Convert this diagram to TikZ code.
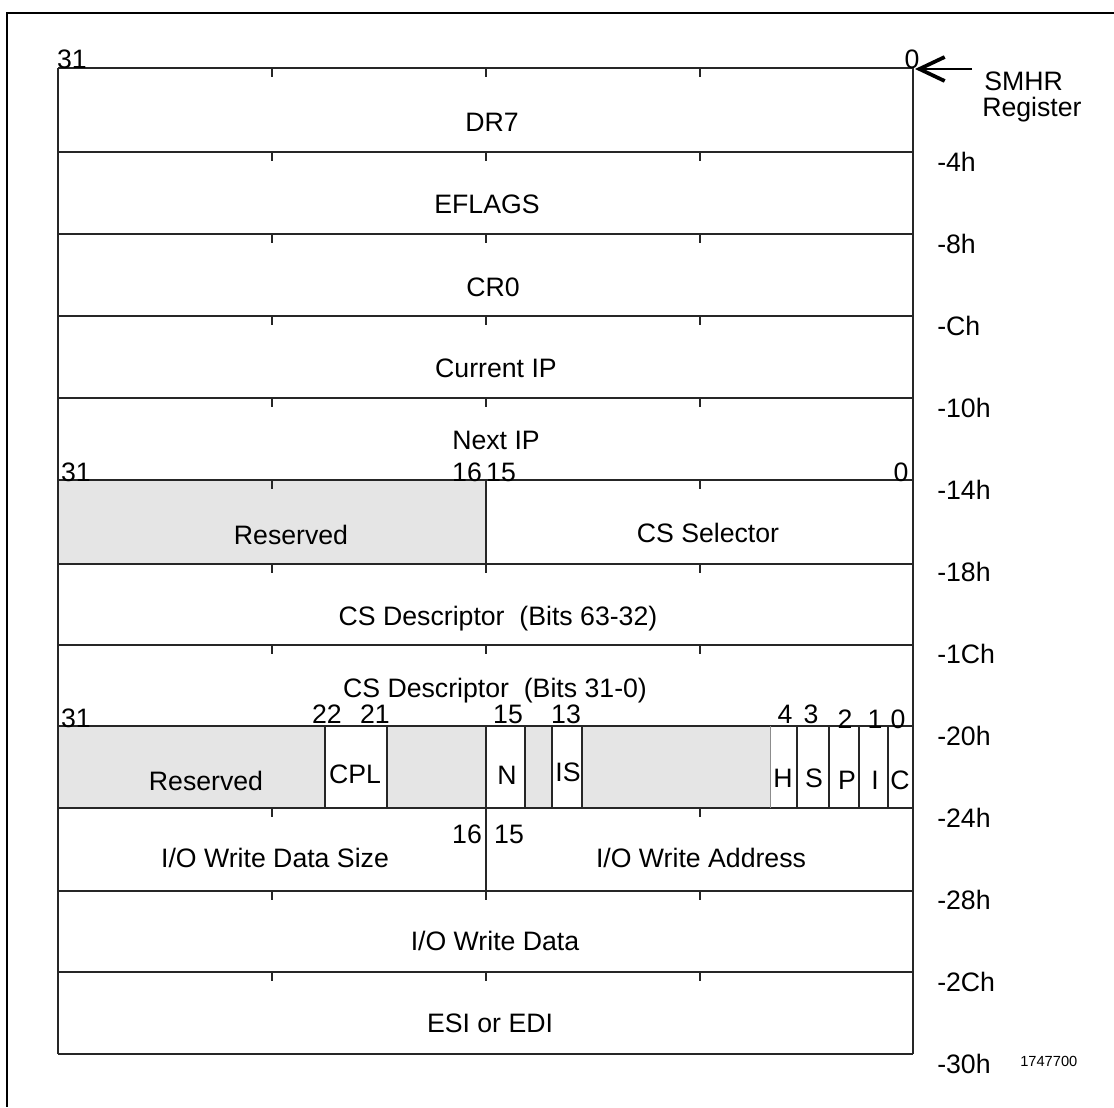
\documentclass[tikz,border=0pt]{standalone}
\usepackage{fontspec}
\setmainfont{Liberation Sans}
\usetikzlibrary{arrows.meta}
\begin{document}
\begin{tikzpicture}[x=0.75pt,y=-0.75pt,
  grid/.style={line width=1.1pt, draw=black!85},
  thinline/.style={line width=0.6pt, draw=black!45},
  frame/.style={line width=1.3pt, draw=black},
  txt/.style={inner sep=0pt, anchor=base, font=\fontsize{20}{24}\selectfont},
  txtl/.style={txt, anchor=base west},
  small/.style={inner sep=0pt, anchor=base west, font=\fontsize{11}{13}\selectfont},
  resv/.style={fill=black!10},
]
\useasboundingbox (0,0) rectangle (1114,1107);
% outer frame (cut by page edges)
\draw[frame] (1114,13) -- (7,13) -- (7,1107);

% reserved fills
\fill[resv] (58,480) rectangle (486,564);
\fill[resv] (58,726) rectangle (913,808);
\fill[white] (325,726) rectangle (387,808);
\fill[white] (486,726) rectangle (525,808);
\fill[white] (552,726) rectangle (582,808);
\fill[white] (770,726) rectangle (913,808);

% row lines
\foreach \y in {68,152,234,316,398,480,564,645,726,808,891,972,1054}
  \draw[grid] (58,\y) -- (913,\y);
\draw[grid] (58,68) -- (58,1054);
\draw[grid] (913,68) -- (913,1054);

% dividers
\draw[grid] (486,480) -- (486,564);
\draw[grid] (486,808) -- (486,891);
\foreach \x in {325,387,486,525,552,582,797,829,859,888}
  \draw[grid] (\x,726) -- (\x,808);
\draw[thinline] (770,726) -- (770,808);

% ticks
\foreach \y in {68,152,234,316,398,564,645,891,972}
  \foreach \x in {272,486,700}
    \draw[grid] (\x,\y) -- (\x,\y+9);
\foreach \y in {480,808}
  \foreach \x in {272,700}
    \draw[grid] (\x,\y) -- (\x,\y+9);

% bit numbers
\node[txt] (b31a) at (72,68) {31};
\node[txt] (b0a) at (912,68) {0};
\node[txt] (b31b) at (76,481) {31};
\node[txt] (b16b) at (467,481) {16};
\node[txt] (b15b) at (501,481) {15};
\node[txt] (b0b) at (901,481) {0};
\node[txt] (b31c) at (76,727) {31};
\node[txt] (b22c) at (327,723) {22};
\node[txt] (b21c) at (375,723) {21};
\node[txt] (b15c) at (508,723) {15};
\node[txt] (b13c) at (566,723) {13};
\node[txt] (b4c) at (785,723) {4};
\node[txt] (b3c) at (811,723) {3};
\node[txt] (b2c) at (845,728) {2};
\node[txt] (b1c) at (875,728) {1};
\node[txt] (b0c) at (898,728) {0};
\node[txt] (b16d) at (467,843) {16};
\node[txt] (b15d) at (509,843) {15};

% field names
\node[txt] (dr7) at (492,131) {DR7};
\node[txt] (eflags) at (487,213) {EFLAGS};
\node[txt] (cr0) at (493,296) {CR0};
\node[txt] (curip) at (496,377) {Current IP};
\node[txt] (nextip) at (496,449) {Next IP};
\node[txt] (res1) at (291,544) {Reserved};
\node[txt] (cssel) at (708,542) {CS Selector};
\node[txt] (csdhi) at (498,625) {CS Descriptor\ \ (Bits 63-32)};
\node[txt] (csdlo) at (495,697) {CS Descriptor\ \ (Bits 31-0)};
\node[txt] (res2) at (206,790) {Reserved};
\node[txt] (cpl) at (355,783) {CPL};
\node[txt] (fn) at (507,784) {N};
\node[txt] (fis) at (568,781) {IS};
\node[txt] (fh) at (783,787) {H};
\node[txt] (fs) at (814,787) {S};
\node[txt] (fp) at (847,789) {P};
\node[txt] (fi) at (875,789) {I};
\node[txt] (fc) at (900,789) {C};
\node[txt] (iosize) at (275,867) {I/O Write Data Size};
\node[txt] (ioaddr) at (701,867) {I/O Write Address};
\node[txt] (iodata) at (495,950) {I/O Write Data};
\node[txt] (esi) at (490,1032) {ESI or EDI};

% offsets
\foreach \lab [count=\k from 0] in {-4h,-8h,-Ch,-10h,-14h,-18h,-1Ch,-20h,-24h,-28h,-2Ch,-30h}
  \node[txtl] (off\k) at (937,{171+82.0*\k}) {\lab};

% SMHR register pointer
\node[txtl] (smhr) at (984,90) {SMHR};
\node[txtl] (register) at (982,116) {Register};
\coordinate (ptrtail) at (972,69);
\coordinate (ptrtip) at (915,69);
\draw[line width=0.9pt, -{Straight Barb[length=19pt,width=18pt,line width=2.8pt]}] (ptrtail) -- (ptrtip);

\node[small] (figid) at (1020,1066) {1747700};
\end{tikzpicture}
\end{document}
